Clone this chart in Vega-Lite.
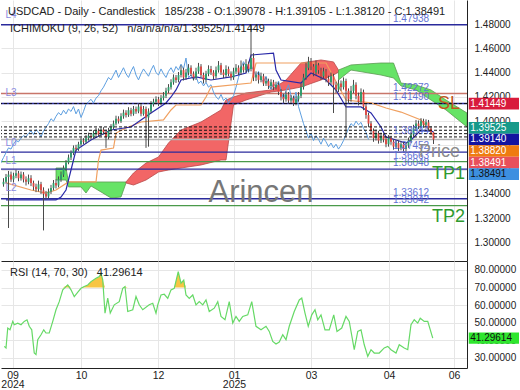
{
"$schema":"https://vega.github.io/schema/vega-lite/v6.json",
"padding":0,"spacing":0,"background":"white",
"config":{"view":{"stroke":null},"font":"Liberation Sans","axis":{"labelFont":"Liberation Sans","labelFontSize":10,"labelColor":"#222","gridColor":"#e6e6e6","domainColor":"#222","ticks":false,"title":null,"labelOverlap":false}},
"datasets":{
"candles":[
{"i":1,"o":1.348,"h":1.353,"l":1.346,"c":1.35},{"i":2,"o":1.35,"h":1.3565,"l":1.3485,"c":1.354},{"i":3,"o":1.354,"h":1.359,"l":1.312,"c":1.356},{"i":4,"o":1.356,"h":1.3585,"l":1.35,"c":1.352},{"i":5,"o":1.352,"h":1.3575,"l":1.3495,"c":1.355},{"i":6,"o":1.355,"h":1.36,"l":1.353,"c":1.357},{"i":7,"o":1.357,"h":1.359,"l":1.3505,"c":1.353},{"i":8,"o":1.353,"h":1.3585,"l":1.351,"c":1.356},{"i":9,"o":1.356,"h":1.358,"l":1.3495,"c":1.352},{"i":10,"o":1.352,"h":1.3545,"l":1.347,"c":1.35},
{"i":11,"o":1.35,"h":1.356,"l":1.348,"c":1.353},{"i":12,"o":1.353,"h":1.3555,"l":1.3465,"c":1.349},{"i":13,"o":1.349,"h":1.351,"l":1.343,"c":1.346},{"i":14,"o":1.346,"h":1.3485,"l":1.3415,"c":1.344},{"i":15,"o":1.344,"h":1.351,"l":1.342,"c":1.348},{"i":16,"o":1.348,"h":1.35,"l":1.34,"c":1.343},{"i":17,"o":1.343,"h":1.3455,"l":1.31,"c":1.34},{"i":18,"o":1.34,"h":1.3425,"l":1.3355,"c":1.338},{"i":19,"o":1.338,"h":1.3445,"l":1.336,"c":1.342},{"i":20,"o":1.342,"h":1.3475,"l":1.34,"c":1.345},
{"i":21,"o":1.345,"h":1.3515,"l":1.343,"c":1.349},{"i":22,"o":1.349,"h":1.352,"l":1.3445,"c":1.347},{"i":23,"o":1.347,"h":1.3545,"l":1.3455,"c":1.352},{"i":24,"o":1.352,"h":1.3585,"l":1.35,"c":1.356},{"i":25,"o":1.356,"h":1.3635,"l":1.354,"c":1.361},{"i":26,"o":1.361,"h":1.368,"l":1.359,"c":1.366},{"i":27,"o":1.366,"h":1.3725,"l":1.3645,"c":1.37},{"i":28,"o":1.37,"h":1.376,"l":1.368,"c":1.374},{"i":29,"o":1.374,"h":1.38,"l":1.372,"c":1.378},{"i":30,"o":1.378,"h":1.3805,"l":1.375,"c":1.377},
{"i":31,"o":1.377,"h":1.383,"l":1.3755,"c":1.381},{"i":32,"o":1.381,"h":1.3865,"l":1.3795,"c":1.384},{"i":33,"o":1.384,"h":1.386,"l":1.381,"c":1.383},{"i":34,"o":1.383,"h":1.3885,"l":1.3815,"c":1.386},{"i":35,"o":1.386,"h":1.3905,"l":1.384,"c":1.388},{"i":36,"o":1.388,"h":1.39,"l":1.385,"c":1.387},{"i":37,"o":1.387,"h":1.3925,"l":1.3855,"c":1.39},{"i":38,"o":1.39,"h":1.3945,"l":1.388,"c":1.392},{"i":39,"o":1.392,"h":1.394,"l":1.387,"c":1.389},{"i":40,"o":1.389,"h":1.3955,"l":1.3875,"c":1.393},
{"i":41,"o":1.393,"h":1.395,"l":1.389,"c":1.391},{"i":42,"o":1.391,"h":1.393,"l":1.378,"c":1.387},{"i":43,"o":1.387,"h":1.3945,"l":1.385,"c":1.392},{"i":44,"o":1.392,"h":1.3975,"l":1.39,"c":1.395},{"i":45,"o":1.395,"h":1.4005,"l":1.3935,"c":1.398},{"i":46,"o":1.398,"h":1.4045,"l":1.3965,"c":1.402},{"i":47,"o":1.402,"h":1.404,"l":1.398,"c":1.4},{"i":48,"o":1.4,"h":1.4065,"l":1.3985,"c":1.404},{"i":49,"o":1.404,"h":1.4095,"l":1.402,"c":1.407},{"i":50,"o":1.407,"h":1.409,"l":1.403,"c":1.405},
{"i":51,"o":1.405,"h":1.4115,"l":1.4035,"c":1.409},{"i":52,"o":1.409,"h":1.411,"l":1.404,"c":1.406},{"i":53,"o":1.406,"h":1.4125,"l":1.4045,"c":1.41},{"i":54,"o":1.41,"h":1.412,"l":1.406,"c":1.408},{"i":55,"o":1.408,"h":1.4145,"l":1.4065,"c":1.412},{"i":56,"o":1.412,"h":1.414,"l":1.404,"c":1.406},{"i":57,"o":1.406,"h":1.4125,"l":1.4045,"c":1.41},{"i":58,"o":1.41,"h":1.412,"l":1.378,"c":1.403},{"i":59,"o":1.403,"h":1.4105,"l":1.379,"c":1.408},{"i":60,"o":1.408,"h":1.4165,"l":1.4065,"c":1.414},
{"i":61,"o":1.414,"h":1.4185,"l":1.412,"c":1.416},{"i":62,"o":1.416,"h":1.4205,"l":1.414,"c":1.418},{"i":63,"o":1.418,"h":1.42,"l":1.4125,"c":1.415},{"i":64,"o":1.415,"h":1.4215,"l":1.413,"c":1.419},{"i":65,"o":1.419,"h":1.424,"l":1.417,"c":1.421},{"i":66,"o":1.421,"h":1.4275,"l":1.419,"c":1.425},{"i":67,"o":1.425,"h":1.4305,"l":1.423,"c":1.428},{"i":68,"o":1.428,"h":1.4345,"l":1.426,"c":1.432},{"i":69,"o":1.432,"h":1.4385,"l":1.43,"c":1.436},{"i":70,"o":1.436,"h":1.438,"l":1.4315,"c":1.434},
{"i":71,"o":1.434,"h":1.4405,"l":1.432,"c":1.438},{"i":72,"o":1.438,"h":1.446,"l":1.436,"c":1.442},{"i":73,"o":1.442,"h":1.444,"l":1.4335,"c":1.436},{"i":74,"o":1.436,"h":1.443,"l":1.434,"c":1.44},{"i":75,"o":1.44,"h":1.447,"l":1.438,"c":1.444},{"i":76,"o":1.444,"h":1.446,"l":1.437,"c":1.439},{"i":77,"o":1.439,"h":1.441,"l":1.4335,"c":1.436},{"i":78,"o":1.436,"h":1.444,"l":1.434,"c":1.441},{"i":79,"o":1.441,"h":1.448,"l":1.439,"c":1.445},{"i":80,"o":1.445,"h":1.447,"l":1.436,"c":1.438},
{"i":81,"o":1.438,"h":1.44,"l":1.431,"c":1.434},{"i":82,"o":1.434,"h":1.4415,"l":1.432,"c":1.439},{"i":83,"o":1.439,"h":1.446,"l":1.437,"c":1.443},{"i":84,"o":1.443,"h":1.4455,"l":1.438,"c":1.44},{"i":85,"o":1.44,"h":1.442,"l":1.434,"c":1.437},{"i":86,"o":1.437,"h":1.445,"l":1.435,"c":1.442},{"i":87,"o":1.442,"h":1.4495,"l":1.44,"c":1.446},{"i":88,"o":1.446,"h":1.448,"l":1.438,"c":1.44},{"i":89,"o":1.44,"h":1.4425,"l":1.4355,"c":1.438},{"i":90,"o":1.438,"h":1.446,"l":1.436,"c":1.443},
{"i":91,"o":1.443,"h":1.445,"l":1.437,"c":1.439},{"i":92,"o":1.439,"h":1.441,"l":1.4335,"c":1.436},{"i":93,"o":1.436,"h":1.444,"l":1.434,"c":1.441},{"i":94,"o":1.441,"h":1.447,"l":1.439,"c":1.444},{"i":95,"o":1.444,"h":1.446,"l":1.438,"c":1.44},{"i":96,"o":1.44,"h":1.45,"l":1.438,"c":1.445},{"i":97,"o":1.445,"h":1.4475,"l":1.44,"c":1.442},{"i":98,"o":1.442,"h":1.451,"l":1.44,"c":1.447},{"i":99,"o":1.447,"h":1.449,"l":1.4405,"c":1.443},{"i":100,"o":1.443,"h":1.4794,"l":1.441,"c":1.452},
{"i":101,"o":1.452,"h":1.456,"l":1.433,"c":1.436},{"i":102,"o":1.436,"h":1.441,"l":1.433,"c":1.438},{"i":103,"o":1.438,"h":1.4405,"l":1.431,"c":1.434},{"i":104,"o":1.434,"h":1.44,"l":1.432,"c":1.437},{"i":105,"o":1.437,"h":1.439,"l":1.429,"c":1.431},{"i":106,"o":1.431,"h":1.436,"l":1.429,"c":1.433},{"i":107,"o":1.433,"h":1.435,"l":1.4265,"c":1.429},{"i":108,"o":1.429,"h":1.4345,"l":1.427,"c":1.432},{"i":109,"o":1.432,"h":1.434,"l":1.4255,"c":1.428},{"i":110,"o":1.428,"h":1.4325,"l":1.426,"c":1.43},
{"i":111,"o":1.43,"h":1.432,"l":1.4215,"c":1.424},{"i":112,"o":1.424,"h":1.4265,"l":1.417,"c":1.42},{"i":113,"o":1.42,"h":1.4225,"l":1.415,"c":1.418},{"i":114,"o":1.418,"h":1.4245,"l":1.416,"c":1.422},{"i":115,"o":1.422,"h":1.424,"l":1.4145,"c":1.417},{"i":116,"o":1.417,"h":1.4215,"l":1.415,"c":1.419},{"i":117,"o":1.419,"h":1.421,"l":1.4125,"c":1.415},{"i":118,"o":1.415,"h":1.4205,"l":1.413,"c":1.418},{"i":119,"o":1.418,"h":1.424,"l":1.416,"c":1.421},{"i":120,"o":1.421,"h":1.431,"l":1.419,"c":1.428},
{"i":121,"o":1.428,"h":1.439,"l":1.426,"c":1.436},{"i":122,"o":1.436,"h":1.448,"l":1.434,"c":1.444},{"i":123,"o":1.444,"h":1.453,"l":1.442,"c":1.449},{"i":124,"o":1.449,"h":1.452,"l":1.442,"c":1.445},{"i":125,"o":1.445,"h":1.447,"l":1.437,"c":1.44},{"i":126,"o":1.44,"h":1.45,"l":1.438,"c":1.446},{"i":127,"o":1.446,"h":1.448,"l":1.439,"c":1.442},{"i":128,"o":1.442,"h":1.444,"l":1.434,"c":1.437},{"i":129,"o":1.437,"h":1.444,"l":1.435,"c":1.441},{"i":130,"o":1.441,"h":1.443,"l":1.432,"c":1.435},
{"i":131,"o":1.435,"h":1.4375,"l":1.429,"c":1.432},{"i":132,"o":1.432,"h":1.44,"l":1.43,"c":1.437},{"i":133,"o":1.437,"h":1.439,"l":1.4067,"c":1.43},{"i":134,"o":1.43,"h":1.4325,"l":1.423,"c":1.426},{"i":135,"o":1.426,"h":1.434,"l":1.424,"c":1.431},{"i":136,"o":1.431,"h":1.4335,"l":1.425,"c":1.428},{"i":137,"o":1.428,"h":1.436,"l":1.426,"c":1.433},{"i":138,"o":1.433,"h":1.435,"l":1.387,"c":1.425},{"i":139,"o":1.425,"h":1.427,"l":1.415,"c":1.418},{"i":140,"o":1.418,"h":1.429,"l":1.416,"c":1.425},
{"i":141,"o":1.425,"h":1.434,"l":1.423,"c":1.43},{"i":142,"o":1.43,"h":1.432,"l":1.418,"c":1.421},{"i":143,"o":1.421,"h":1.4235,"l":1.413,"c":1.416},{"i":144,"o":1.416,"h":1.427,"l":1.414,"c":1.424},{"i":145,"o":1.424,"h":1.426,"l":1.409,"c":1.412},{"i":146,"o":1.412,"h":1.414,"l":1.402,"c":1.405},{"i":147,"o":1.405,"h":1.407,"l":1.395,"c":1.398},{"i":148,"o":1.398,"h":1.4,"l":1.389,"c":1.392},{"i":149,"o":1.392,"h":1.394,"l":1.383,"c":1.386},{"i":150,"o":1.386,"h":1.393,"l":1.384,"c":1.39},
{"i":151,"o":1.39,"h":1.392,"l":1.3815,"c":1.384},{"i":152,"o":1.384,"h":1.3905,"l":1.382,"c":1.388},{"i":153,"o":1.388,"h":1.39,"l":1.3825,"c":1.385},{"i":154,"o":1.385,"h":1.387,"l":1.3785,"c":1.381},{"i":155,"o":1.381,"h":1.3885,"l":1.379,"c":1.386},{"i":156,"o":1.386,"h":1.388,"l":1.3805,"c":1.383},{"i":157,"o":1.383,"h":1.385,"l":1.3765,"c":1.379},{"i":158,"o":1.379,"h":1.3845,"l":1.377,"c":1.382},{"i":159,"o":1.382,"h":1.384,"l":1.3755,"c":1.378},{"i":160,"o":1.378,"h":1.3835,"l":1.376,"c":1.381},
{"i":161,"o":1.381,"h":1.383,"l":1.3745,"c":1.377},{"i":162,"o":1.377,"h":1.3825,"l":1.375,"c":1.38},{"i":163,"o":1.38,"h":1.3865,"l":1.378,"c":1.384},{"i":164,"o":1.384,"h":1.3915,"l":1.382,"c":1.389},{"i":165,"o":1.389,"h":1.397,"l":1.387,"c":1.394},{"i":166,"o":1.394,"h":1.401,"l":1.392,"c":1.398},{"i":167,"o":1.398,"h":1.4005,"l":1.3935,"c":1.396},{"i":168,"o":1.396,"h":1.4025,"l":1.394,"c":1.4},{"i":169,"o":1.4,"h":1.402,"l":1.3945,"c":1.397},{"i":170,"o":1.397,"h":1.4015,"l":1.395,"c":1.399},
{"i":171,"o":1.399,"h":1.401,"l":1.392,"c":1.394},{"i":172,"o":1.394,"h":1.396,"l":1.3885,"c":1.3908},{"i":173,"o":1.39078,"h":1.39105,"l":1.3812,"c":1.38491}
],
"tenkan":[{"i":2,"v":1.3351},{"i":22,"v":1.3351},{"i":24,"v":1.3375},{"i":26,"v":1.3433},{"i":29,"v":1.368},{"i":30,"v":1.3762},{"i":36,"v":1.3845},{"i":40,"v":1.3886},{"i":44,"v":1.3927},{"i":52,"v":1.3952},{"i":56,"v":1.401},{"i":60,"v":1.4067},{"i":66,"v":1.415},{"i":68,"v":1.4199},{"i":70,"v":1.4257},{"i":72,"v":1.4339},{"i":78,"v":1.4364},{"i":84,"v":1.4339},{"i":92,"v":1.4364},{"i":98,"v":1.4397},{"i":100,"v":1.4545},{"i":109,"v":1.4561},{"i":110,"v":1.4421},{"i":112,"v":1.4339},{"i":120,"v":1.4314},{"i":124,"v":1.4397},{"i":130,"v":1.4339},{"i":134,"v":1.4257},{"i":138,"v":1.4117},{"i":144,"v":1.4117},{"i":148,"v":1.4067},{"i":152,"v":1.3952},{"i":154,"v":1.387},{"i":158,"v":1.3845},{"i":162,"v":1.382},{"i":164,"v":1.3845},{"i":168,"v":1.3927},{"i":173,"v":1.3914}],
"kijun":[{"i":2,"v":1.3491},{"i":12,"v":1.3433},{"i":18,"v":1.3408},{"i":22,"v":1.3433},{"i":27,"v":1.3499},{"i":38,"v":1.3499},{"i":39,"v":1.368},{"i":40,"v":1.3762},{"i":45,"v":1.3779},{"i":46,"v":1.3902},{"i":50,"v":1.3944},{"i":56,"v":1.3993},{"i":65,"v":1.401},{"i":68,"v":1.4092},{"i":70,"v":1.4133},{"i":80,"v":1.4133},{"i":82,"v":1.4199},{"i":84,"v":1.4281},{"i":100,"v":1.4314},{"i":102,"v":1.4479},{"i":130,"v":1.4479},{"i":138,"v":1.4174},{"i":148,"v":1.415},{"i":154,"v":1.4108},{"i":160,"v":1.4075},{"i":168,"v":1.401},{"i":173,"v":1.3882}],
"cloud":[
{"i":22,"a":1.3614,"b":1.3515,"k":"bull","s":"g1"},{"i":26,"a":1.3614,"b":1.3515,"k":"bull","s":"g1"},{"i":27,"a":1.3499,"b":1.3458,"k":"bull","s":"g1"},{"i":32,"a":1.3499,"b":1.3458,"k":"bull","s":"g1"},{"i":34,"a":1.3499,"b":1.3408,"k":"bull","s":"g1"},{"i":36,"a":1.3499,"b":1.3466,"k":"bull","s":"g1"},{"i":40,"a":1.3499,"b":1.3417,"k":"bull","s":"g1"},{"i":44,"a":1.3499,"b":1.3367,"k":"bull","s":"g1"},{"i":48,"a":1.3499,"b":1.3375,"k":"bull","s":"g1"},{"i":50,"a":1.3499,"b":1.3491,"k":"bull","s":"g1"},
{"i":50,"a":1.3499,"b":1.3491,"k":"bear","s":"r1"},{"i":53,"a":1.3573,"b":1.3474,"k":"bear","s":"r1"},{"i":58,"a":1.3655,"b":1.3515,"k":"bear","s":"r1"},{"i":63,"a":1.3705,"b":1.3581,"k":"bear","s":"r1"},{"i":67,"a":1.382,"b":1.3598,"k":"bear","s":"r1"},{"i":72,"a":1.3927,"b":1.3614,"k":"bear","s":"r1"},{"i":80,"a":1.3993,"b":1.3639,"k":"bear","s":"r1"},{"i":88,"a":1.4092,"b":1.368,"k":"bear","s":"r1"},{"i":90,"a":1.4174,"b":1.368,"k":"bear","s":"r1"},{"i":93,"a":1.4199,"b":1.4133,"k":"bear","s":"r1"},{"i":98,"a":1.4232,"b":1.4174,"k":"bear","s":"r1"},{"i":108,"a":1.4257,"b":1.424,"k":"bear","s":"r1"},{"i":114,"a":1.4339,"b":1.4257,"k":"bear","s":"r1"},{"i":120,"a":1.4479,"b":1.4281,"k":"bear","s":"r1"},{"i":128,"a":1.4504,"b":1.4339,"k":"bear","s":"r1"},{"i":133,"a":1.4488,"b":1.438,"k":"bear","s":"r1"},{"i":135,"a":1.4421,"b":1.4405,"k":"bear","s":"r1"},
{"i":135,"a":1.4421,"b":1.4339,"k":"bull","s":"g2"},{"i":140,"a":1.4463,"b":1.4421,"k":"bull","s":"g2"},{"i":152,"a":1.4479,"b":1.438,"k":"bull","s":"g2"},{"i":157,"a":1.4479,"b":1.4356,"k":"bull","s":"g2"},{"i":160,"a":1.4314,"b":1.429,"k":"bull","s":"g2"},{"i":166,"a":1.4298,"b":1.4257,"k":"bull","s":"g2"},{"i":172,"a":1.4257,"b":1.4174,"k":"bull","s":"g2"},{"i":178,"a":1.4174,"b":1.4092,"k":"bull","s":"g2"},{"i":186.4,"a":1.4067,"b":1.3952,"k":"bull","s":"g2"}
],
"levels":[{"v":1.47938,"k":"navy"},{"v":1.42272,"k":"brown"},{"v":1.41449,"k":"navy"},{"v":1.38491,"k":"gray"},{"v":1.37452,"k":"navy"},{"v":1.36663,"k":"green"},{"v":1.36048,"k":"navy"},{"v":1.33612,"k":"navy"},{"v":1.33042,"k":"green"}],
"dashes":[{"v":1.41449},{"v":1.39525},{"v":1.3925},{"v":1.3897},{"v":1.387}],
"lvlabels":[{"v":1.47938,"t":"1.47938"},{"v":1.42272,"t":"1.42272"},{"v":1.4149,"t":"1.41490"},{"v":1.3872,"t":"1.38944"},{"v":1.37452,"t":"1.37452"},{"v":1.36663,"t":"1.36663"},{"v":1.36048,"t":"1.36048"},{"v":1.33612,"t":"1.33612"},{"v":1.33042,"t":"1.33042"}],
"tags":[{"t":"1.41449","v":1.41449,"rank":0,"k":"sb"},{"t":"1.39525","v":1.39525,"rank":1,"k":"sa"},{"t":"1.39140","v":1.3914,"rank":2,"k":"tk"},{"t":"1.38820","v":1.3882,"rank":3,"k":"kj"},{"t":"1.38491","v":1.38491,"rank":4,"k":"px"},{"t":"1.38491","v":1.38491,"rank":5,"k":"ck"}],
"rsi":[{"i":1.3,"r":36.6},{"i":2,"r":35.7},{"i":2.7,"r":47},{"i":3.6,"r":46},{"i":4.7,"r":50.8},{"i":5.3,"r":48.9},{"i":6.7,"r":49.8},{"i":8,"r":48.9},{"i":9.3,"r":50.8},{"i":10.4,"r":51.7},{"i":11.3,"r":48},{"i":12.3,"r":46},{"i":13.3,"r":32.8},{"i":14,"r":31.9},{"i":14.7,"r":40.4},{"i":16,"r":43.2},{"i":17.1,"r":46},{"i":18,"r":44.2},{"i":19.3,"r":44.2},{"i":20.7,"r":50.8},{"i":22,"r":57.4},{"i":23.3,"r":62},{"i":24.7,"r":68.7},{"i":26.7,"r":71.5},{"i":28,"r":68.7},{"i":29.3,"r":64.9},{"i":30.9,"r":67.7},{"i":32,"r":69.6},{"i":33.3,"r":70.6},{"i":34.7,"r":71.5},{"i":36,"r":73.4},{"i":38,"r":75.3},{"i":39.3,"r":76.2},{"i":40,"r":78.1},{"i":40.7,"r":74.3},{"i":41.6,"r":55.5},{"i":42.7,"r":64},{"i":43.7,"r":55.5},{"i":45.3,"r":60.2},{"i":47.3,"r":62},{"i":48.7,"r":69.6},{"i":49.6,"r":70.6},{"i":50.7,"r":56.4},{"i":52.7,"r":57.4},{"i":54,"r":64.9},{"i":55.3,"r":60.2},{"i":56.7,"r":57.4},{"i":59.3,"r":60.2},{"i":60.7,"r":61.1},{"i":62,"r":55.5},{"i":62.7,"r":60.2},{"i":64,"r":65.8},{"i":65.3,"r":66.2},{"i":66.7,"r":63.9},{"i":68,"r":68.7},{"i":69.3,"r":69.6},{"i":70.9,"r":79.1},{"i":72,"r":72.5},{"i":73.1,"r":74.3},{"i":74,"r":65.8},{"i":75.3,"r":63.9},{"i":76.7,"r":65.8},{"i":78,"r":60.2},{"i":79.3,"r":62},{"i":80.7,"r":60.2},{"i":82,"r":63},{"i":83.3,"r":56.4},{"i":85.3,"r":58.3},{"i":86.7,"r":62},{"i":88,"r":53.6},{"i":89.6,"r":51.7},{"i":91.3,"r":62},{"i":92.7,"r":49.8},{"i":94,"r":53.6},{"i":95.3,"r":50.8},{"i":96.7,"r":53.6},{"i":98.7,"r":54.5},{"i":100.3,"r":62},{"i":102,"r":48},{"i":104,"r":46},{"i":106,"r":48},{"i":107.3,"r":45.1},{"i":108.7,"r":39.4},{"i":110,"r":37.9},{"i":111.3,"r":39},{"i":112.7,"r":43.2},{"i":114,"r":40.4},{"i":115.3,"r":48},{"i":117.3,"r":56.4},{"i":119.3,"r":63},{"i":120.3,"r":64},{"i":121.6,"r":55.5},{"i":122.9,"r":48},{"i":124.3,"r":54.5},{"i":125.6,"r":57.4},{"i":126.7,"r":51.7},{"i":128,"r":54.5},{"i":129.6,"r":46},{"i":131.3,"r":46},{"i":133.1,"r":54.5},{"i":134.4,"r":45.1},{"i":136.3,"r":47},{"i":138,"r":53.6},{"i":139.3,"r":50.8},{"i":141.3,"r":34.7},{"i":142.7,"r":45.1},{"i":144,"r":46},{"i":145.3,"r":37.5},{"i":146.7,"r":30.9},{"i":148,"r":34.7},{"i":149.3,"r":32.8},{"i":151.3,"r":32.8},{"i":153.3,"r":35.7},{"i":154.7,"r":36.6},{"i":156,"r":34.7},{"i":158,"r":32.8},{"i":159.3,"r":37.5},{"i":161.3,"r":35.7},{"i":162.7,"r":34.7},{"i":164,"r":48.9},{"i":165.3,"r":51.7},{"i":166.7,"r":49.8},{"i":167.7,"r":52.6},{"i":169.3,"r":50.8},{"i":170.7,"r":50.8},{"i":172.7,"r":41.3}]
},
"vconcat":[
{"width":466,"height":261,
 "resolve":{"scale":{"color":"independent","fill":"independent","stroke":"independent","strokeDash":"independent"}},
 "layer":[
  {"data":{"name":"cloud"},"mark":{"type":"area","strokeWidth":0.8,"clip":true},
   "encoding":{"x":{"field":"i","type":"quantitative","scale":{"domain":[0,186.4],"nice":false,"zero":false},
     "axis":{"orient":"bottom","labels":false,"domain":true,"grid":true,"tickCount":30,"values":[4.6,32,62.8,93.2,124,155.2,181.2]}},
    "y":{"field":"a","type":"quantitative","scale":{"domain":[1.2848,1.4998],"nice":false,"zero":false},
     "axis":{"orient":"right","values":[1.3,1.32,1.34,1.36,1.38,1.4,1.42,1.44,1.46,1.48],"tickCount":30,"format":".5f","grid":true,"labelPadding":7,"labelOverlap":false}},
    "y2":{"field":"b"},
    "fill":{"field":"k","type":"nominal","scale":{"domain":["bull","bear"],"range":["#66e366","#f26666"]},"legend":null},
    "stroke":{"field":"k","type":"nominal","scale":{"domain":["bull","bear"],"range":["#5a9a50","#b84848"]},"legend":null},
    "detail":{"field":"s"}}},
  {"data":{"name":"levels"},"mark":{"type":"rule","strokeWidth":1.4},
   "encoding":{"y":{"field":"v","type":"quantitative"},
    "color":{"field":"k","type":"nominal","scale":{"domain":["navy","brown","gray","green"],"range":["#2a2a9c","#c8766a","#b4b4b4","#4a9a4a"]},"legend":null}}},
  {"data":{"name":"candles"},"transform":[{"calculate":"datum.i - 26","as":"ci"}],"mark":{"type":"line","color":"#5c9ee0","strokeWidth":1,"clip":true},
   "encoding":{"x":{"field":"ci","type":"quantitative"},"y":{"field":"c","type":"quantitative"}}},
  {"data":{"name":"kijun"},"mark":{"type":"line","color":"#f0a060","strokeWidth":1.2,"clip":true},
   "encoding":{"x":{"field":"i","type":"quantitative"},"y":{"field":"v","type":"quantitative"}}},
  {"data":{"name":"tenkan"},"mark":{"type":"line","color":"#2828a8","strokeWidth":1.2,"clip":true},
   "encoding":{"x":{"field":"i","type":"quantitative"},"y":{"field":"v","type":"quantitative"}}},
  {"data":{"name":"candles"},"mark":{"type":"rule","color":"#4a4a4a","strokeWidth":1},
   "encoding":{"x":{"field":"i","type":"quantitative"},"y":{"field":"l","type":"quantitative"},"y2":{"field":"h"}}},
  {"data":{"name":"candles"},"mark":{"type":"rule","strokeWidth":1.8},
   "encoding":{"x":{"field":"i","type":"quantitative"},"y":{"field":"o","type":"quantitative"},"y2":{"field":"c"},
    "color":{"condition":{"test":"datum.c >= datum.o","value":"#2a9d6a"},"value":"#e0453f"}}},
  {"data":{"name":"dashes"},"mark":{"type":"rule","color":"#111","strokeWidth":1,"strokeDash":[3,2]},
   "encoding":{"y":{"field":"v","type":"quantitative"}}},
  {"data":{"name":"lvlabels"},"mark":{"type":"text","align":"left","baseline":"bottom","dy":-1,"fontSize":10,"color":"#6272d4"},
   "encoding":{"x":{"datum":156.8},"y":{"field":"v","type":"quantitative"},"text":{"field":"t"}}},
  {"data":{"values":[{"t":"L4","v":1.4874},{"t":"L3","v":1.4232},{"t":"L0","v":1.382},{"t":"L1","v":1.3672},{"t":"L2","v":1.3449}]},
   "mark":{"type":"text","align":"left","baseline":"middle","fontSize":10,"color":"#8a8ae0"},
   "encoding":{"x":{"datum":1.8},"y":{"field":"v","type":"quantitative"},"text":{"field":"t"}}},
  {"data":{"values":[{"t":"Arincen"}]},"mark":{"type":"text","align":"center","baseline":"middle","fontSize":31,"color":"#777"},
   "encoding":{"x":{"datum":104},"y":{"datum":1.3408},"text":{"field":"t"}}},
  {"data":{"values":[{"t":"SL","i":174.8,"v":1.4141,"k":"sl"},{"t":"Price","i":167.2,"v":1.3746,"k":"price"},{"t":"TP1","i":172.4,"v":1.3565,"k":"tp"},{"t":"TP2","i":172.4,"v":1.3211,"k":"tp"}]},
   "mark":{"type":"text","align":"left","baseline":"middle","fontSize":18},
   "encoding":{"x":{"field":"i","type":"quantitative"},"y":{"field":"v","type":"quantitative"},"text":{"field":"t"},
    "color":{"field":"k","type":"nominal","scale":{"domain":["sl","price","tp"],"range":["#c0561c","#8c8c8c","#2e9a2e"]},"legend":null}}},
  {"data":{"values":[{"t":"USDCAD - Daily - Candlestick\u00a0\u00a0\u00a0185/238 - O:1.39078 - H:1.39105 - L:1.38120 - C:1.38491","i":2.8,"v":1.4899},{"t":"ICHIMOKU (9, 26, 52)\u00a0\u00a0\u00a0n/a/n/a/n/a/1.39525/1.41449","i":3.6,"v":1.4759}]},
   "mark":{"type":"text","align":"left","baseline":"middle","fontSize":11,"color":"#222"},
   "encoding":{"x":{"field":"i","type":"quantitative"},"y":{"field":"v","type":"quantitative"},"text":{"field":"t"}}},
  {"data":{"name":"tags"},"transform":[{"calculate":"datum.rank == 0 ? datum.v : 1.3944 - (datum.rank - 1) * 0.0095","as":"pos"},{"calculate":"datum.pos + 0.0048","as":"pt"},{"calculate":"datum.pos - 0.0048","as":"pb"}],
   "mark":{"type":"rect"},
   "encoding":{"x":{"datum":187.1},"x2":{"datum":207.2},"y":{"field":"pt","type":"quantitative"},"y2":{"field":"pb"},
    "fill":{"field":"k","type":"nominal","scale":{"domain":["sb","sa","tk","kj","px","ck"],"range":["#d81b3c","#17998a","#1414a0","#ef7b10","#e8505b","#3d8fe0"]},"legend":null}}},
  {"data":{"name":"tags"},"transform":[{"calculate":"datum.rank == 0 ? datum.v : 1.3944 - (datum.rank - 1) * 0.0095","as":"pos"}],
   "mark":{"type":"text","align":"left","baseline":"middle","fontSize":10},
   "encoding":{"x":{"datum":187.7},"y":{"field":"pos","type":"quantitative"},"text":{"field":"t"},
    "color":{"field":"k","type":"nominal","scale":{"domain":["sb","sa","tk","kj","px","ck"],"range":["#fff","#fff","#fff","#fff","#fff","#111"]},"legend":null}}}
 ]},
{"width":466,"height":107,
 "layer":[
  {"data":{"name":"rsi"},"transform":[{"calculate":"max(datum.r, 70)","as":"top"}],
   "mark":{"type":"area","color":"#f7c544"},
   "encoding":{"x":{"field":"i","type":"quantitative","scale":{"domain":[0,186.4],"nice":false,"zero":false},
     "axis":{"orient":"bottom","grid":true,"tickCount":30,"values":[4.6,32,62.8,93.2,124,155.2,181.2],"labelFontSize":10.5,"labelLineHeight":9.5,"labelPadding":2,
      "labelExpr":"datum.value < 10 ? ['09','2024'] : datum.value < 40 ? '10' : datum.value < 70 ? '12' : datum.value < 100 ? ['01','2025'] : datum.value < 130 ? '03' : datum.value < 160 ? '04' : '06'"}},
    "y":{"field":"top","type":"quantitative","scale":{"domain":[24.3,85.1],"nice":false,"zero":false},
     "axis":{"orient":"right","values":[30,40,50,60,70,80],"tickCount":30,"format":".5f","grid":true,"labelPadding":7,"labelOverlap":false}},
    "y2":{"datum":70}}},
  {"mark":{"type":"rule","color":"#f5d6a4","strokeWidth":2},"encoding":{"x":{"datum":1},"x2":{"datum":173},"y":{"datum":70}}},
  {"mark":{"type":"rule","color":"#c9aee8","strokeWidth":2},"encoding":{"x":{"datum":1},"x2":{"datum":173},"y":{"datum":30}}},
  {"mark":{"type":"rule","color":"#111","strokeWidth":1,"strokeDash":[3,2]},"encoding":{"y":{"datum":41.29614}}},
  {"data":{"name":"rsi"},"mark":{"type":"line","color":"#66d966","strokeWidth":1.2},
   "encoding":{"x":{"field":"i","type":"quantitative"},"y":{"field":"r","type":"quantitative"}}},
  {"data":{"values":[{"t":"RSI (14, 70, 30)\u00a0\u00a0\u00a041.29614"}]},"mark":{"type":"text","align":"left","baseline":"middle","fontSize":11,"color":"#222"},
   "encoding":{"x":{"datum":3.6},"y":{"datum":78.3},"text":{"field":"t"}}},
  {"data":{"values":[{"t":"41.29614","v":41.29614}]},"transform":[{"calculate":"datum.v + 3.2","as":"pt"},{"calculate":"datum.v - 3.2","as":"pb"}],
   "mark":{"type":"rect","color":"#2ee62e"},"encoding":{"x":{"datum":187.1},"x2":{"datum":207.2},"y":{"field":"pt","type":"quantitative"},"y2":{"field":"pb"}}},
  {"data":{"values":[{"t":"41.29614","v":41.29614}]},"mark":{"type":"text","align":"left","baseline":"middle","fontSize":10,"color":"#111"},
   "encoding":{"x":{"datum":187.7},"y":{"field":"v","type":"quantitative"},"text":{"field":"t"}}}
 ]}
]
}
